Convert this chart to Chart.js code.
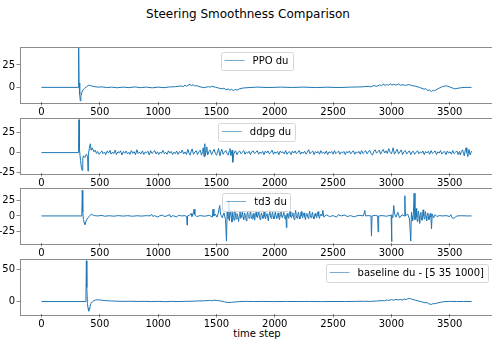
<!DOCTYPE html>
<html>
<head>
<meta charset="utf-8">
<script src="https://cdn.jsdelivr.net/npm/chart.js@4.4.0/dist/chart.umd.min.js"></script>
<style>
  html, body { margin: 0; padding: 0; background: #fff; }
  #fig { position: relative; width: 492px; height: 343px; overflow: hidden; font-family: "DejaVu Sans", sans-serif; }
  #fig canvas { position: absolute; }
  .title { position: absolute; left: 0; width: 496px; top: 7px; line-height: 14px; text-align: center; font-size: 12px; color: #000; }
  .xlabel { position: absolute; left: 157px; width: 200px; top: 328px; line-height: 12px; text-align: center; font-size: 10px; color: #000; }
</style>
</head>
<body>
<div id="fig">
  <div class="title">Steering Smoothness Comparison</div>
  <div class="xlabel">time step</div>
</div>
<script>
// values: [time step, du]
const xTicks = [0, 500, 1000, 1500, 2000, 2500, 3000, 3500];

const ppoDu = [[0,0],[316,0],[319,44],[322,5],[328,-8],[333,-15],[338,-10],[345,-6],[355,-3],[370,-1],[385,0.5],[400,2],[413,2.5],[430,1.5],[450,1],
  [480,0.3],[520,0.6],[560,-0.3],[600,0.3],[650,-0.4],[700,0.3],[750,-0.3],[800,0.5],[850,-0.3],[900,0.3],[950,-0.5],[1000,0.3],[1050,-0.3],[1100,0.5],
  [1150,0.8],[1200,1.6],[1215,0.8],[1230,2.5],[1245,1.2],[1255,2.2],[1273,3.6],[1285,1.8],[1300,3],[1315,1.5],[1330,2],[1360,0.5],[1400,-0.3],[1430,0.9],
  [1445,0.2],[1460,1.3],[1490,0.2],[1520,-0.8],[1550,-1.6],[1565,-0.8],[1580,-2.6],[1600,-1.8],[1615,-3],[1630,-2.2],[1645,-3.5],[1660,-2.4],[1680,-2.8],
  [1700,-1.5],[1730,-0.7],[1780,-0.2],[1850,0.3],[1950,-0.2],[2050,0.3],[2150,-0.1],[2250,0.3],[2350,-0.2],[2450,0.2],[2550,-0.2],[2650,0.3],[2750,0.6],
  [2800,1.3],[2820,0.6],[2850,2],[2875,1.2],[2900,2.8],[2915,1.8],[2930,3.6],[2945,2.2],[2960,3.2],[2975,2.4],[2990,4],[3005,2.6],[3020,3.4],[3040,2.5],
  [3060,3.8],[3080,2.4],[3100,3],[3120,2.2],[3150,3.1],[3175,2],[3200,1.5],[3240,0],[3280,-2],[3295,-1.4],[3310,-3.5],[3325,-2.8],[3343,-4.6],[3358,-3.2],
  [3370,-3.8],[3400,-1.5],[3430,0.5],[3450,1.2],[3472,1.8],[3500,0.5],[3520,-0.5],[3544,-1.7],[3570,-1],[3600,-0.3],[3640,0],[3687,0]];

const ddpgDu = [[0,0],[318,0],[322,41],[325,5],[335,-10],[342,-18],[348,-22],[354,-8],[360,-4],[372,-6],[385,-2],[396,-5],[399,-23],[402,-3],
  [410,5],[419,11],[425,3],[435,6],[450,1],[460,3],[472,-1],[481,1.5],[495,-2.2],[506,0.4],[518,2.1],[527,-1.3],[541,0.8],[550,-2.6],[564,1.9],
  [575,-0.6],[588,2.8],[597,-1.9],[611,0.7],[620,-1.2],[633,3.2],[642,-2.4],[656,1.1],[668,-0.3],[679,2.3],[690,-2.9],[703,1.4],[714,-0.8],
  [726,2.0],[737,-1.6],[749,0.5],[758,-2.2],[771,2.6],[783,-0.9],[794,1.2],[806,-2.7],[818,3.6],[829,-1.1],[840,0.6],[853,-1.8],[866,2.2],
  [877,-2.3],[889,0.9],[900,-0.4],[912,1.7],[924,-3.0],[936,2.4],[947,-1.0],[959,0.3],[970,2.6],[982,-1.7],[994,1.0],[1006,-2.4],[1018,0.8],
  [1029,-1.0],[1042,2.9],[1054,-1.6],[1065,0.4],[1077,-2.1],[1089,2.3],[1100,-0.7],[1112,1.5],[1124,-2.5],[1136,0.6],[1147,-1.3],[1159,2.0],
  [1171,-2.2],[1183,1.2],[1195,-0.5],[1207,3.1],[1219,-1.8],[1231,0.9],[1243,-2.3],[1255,4.1],[1266,-1.2],[1275,-3.2],[1284,2.0],[1292,4.6],
  [1303,-2.1],[1315,0.7],[1327,2.2],[1338,-2.6],[1350,1.0],[1361,3.1],[1372,-3.2],[1381,1.2],[1387,6],[1394,-5],[1400,11],[1405,-4],[1412,2],
  [1417,7],[1425,-3],[1436,1.5],[1446,3.2],[1458,-2.6],[1469,0.8],[1480,4.1],[1492,-1.2],[1501,-3.3],[1512,2],[1518,5.2],[1530,-4],[1538,1],
  [1546,4.2],[1557,-2.1],[1568,0.6],[1580,2.7],[1591,-1.1],[1600,-3.2],[1609,1.5],[1616,5.1],[1624,-4],[1634,3],[1640,-12],[1648,-2],[1657,1.2],
  [1664,2.3],[1676,-2.6],[1687,0.5],[1699,2.1],[1711,-1.4],[1722,0.3],[1734,2.6],[1745,-2.1],[1757,0.9],[1768,-0.6],[1780,1.7],[1792,-2.6],
  [1803,1.1],[1815,2.1],[1826,-1.2],[1838,0.2],[1850,2.5],[1861,-2.0],[1873,0.7],[1884,-1.0],[1896,1.6],[1908,-2.6],[1919,1.9],[1931,-0.4],
  [1942,2.1],[1954,-1.6],[1966,0.4],[1977,3.0],[1989,-2.1],[2000,0.9],[2012,-0.8],[2024,1.5],[2035,-2.6],[2047,2.0],[2058,-0.3],[2070,1.0],
  [2082,-1.6],[2093,2.6],[2105,-2.1],[2116,0.5],[2128,1.1],[2140,-2.5],[2151,1.8],[2163,-0.6],[2175,2.1],[2186,-1.5],[2198,0.3],[2210,2.6],
  [2221,-2.1],[2233,0.8],[2244,-1.0],[2256,1.6],[2268,-2.0],[2279,0.4],[2291,3.6],[2302,-1.5],[2314,0.6],[2326,2.0],[2337,-2.6],[2349,1.3],
  [2361,-0.5],[2372,1.6],[2384,-2.1],[2395,2.4],[2407,-0.8],[2419,0.6],[2430,-1.5],[2442,2.1],[2454,-2.5],[2465,1.0],[2477,-0.4],[2488,1.5],
  [2500,-2.0],[2512,2.5],[2523,-1.5],[2535,0.3],[2547,2.0],[2558,-2.1],[2570,0.8],[2581,-0.6],[2593,1.6],[2605,-2.6],[2616,1.4],[2628,-0.3],
  [2640,2.1],[2651,-1.6],[2663,0.6],[2674,2.4],[2686,-2.2],[2698,1.0],[2709,-0.7],[2721,1.5],[2733,-2.0],[2744,2.6],[2756,-1.2],[2768,0.4],
  [2779,2.5],[2791,-1.6],[2802,0.8],[2814,3.0],[2826,-1.4],[2838,-3.1],[2849,1.5],[2861,3.5],[2872,-0.8],[2884,1.2],[2896,3.1],[2907,-2.0],
  [2919,1.4],[2930,4.0],[2942,-0.6],[2954,2.2],[2965,-1.1],[2977,5.0],[2989,0.3],[3000,-1.5],[3008,2.1],[3015,6.0],[3026,-2.0],[3038,1.2],
  [3049,4.1],[3061,-1.6],[3072,0.7],[3084,3.4],[3096,-2.5],[3107,1.0],[3119,2.6],[3131,-1.8],[3142,0.5],[3154,2.1],[3166,-2.6],[3177,0.8],
  [3189,1.6],[3200,-2.0],[3212,0.3],[3224,2.4],[3235,-1.5],[3247,0.9],[3259,-0.6],[3270,2.1],[3282,-2.6],[3293,1.4],[3305,-0.4],[3317,1.7],
  [3328,-2.1],[3340,2.5],[3352,-1.0],[3363,0.4],[3375,2.1],[3387,-2.5],[3398,1.0],[3410,-0.5],[3421,2.6],[3433,-1.8],[3445,0.6],[3456,1.5],
  [3468,-2.6],[3480,2.0],[3491,-0.6],[3503,1.1],[3514,-2.0],[3526,2.6],[3537,-1.3],[3549,0.3],[3561,2.2],[3572,-2.4],[3584,1.5],[3590,-3],
  [3600,1],[3610,3.5],[3618,-1],[3625,-4],[3632,2],[3640,6],[3647,0],[3655,-5],[3665,4],[3675,-3],[3687,2]];

const td3Du = [[0,0],[346,0],[350,42],[354,6],[360,-6],[366,-11],[373,-14],[380,-10],[388,-6],[398,-3],[410,-1],[420,1.5],[428,3],[440,1.5],
  [455,0.5],[480,0],[520,0.8],[540,-0.5],[580,0.3],[620,-0.4],[660,0.5],[700,-0.3],[740,0.4],[780,-0.5],[820,0.3],[860,-0.3],[900,0.5],[930,0],
  [945,2.5],[955,-1],[970,0.5],[1000,-2],[1010,0],[1040,1.5],[1050,-1],[1075,0],[1100,2],[1110,-2],[1125,0.5],[1160,-1.5],[1175,1],[1200,0],
  [1230,0.5],[1245,-1],[1248,-15],[1252,0],[1270,1],[1282,4],[1290,-1],[1300,3],[1308,11],[1315,2],[1330,-1],[1360,0.5],[1400,-0.5],[1440,1],
  [1465,-2],[1471,11],[1478,0],[1490,3],[1505,-2],[1515,4],[1528,17],[1535,3],[1550,-3],[1565,5],[1578,-6],[1586,-41],[1592,8],[1600,-5],
  [1606,25],[1611,-8],[1618,3],[1622,10],[1629,-4],[1633,-10],[1640,6],[1645,-2],[1651,-7],[1658,9],[1663,1],[1670,-5],[1676,4],[1683,-1],
  [1690,-9],[1697,2],[1702,7],[1709,-4],[1716,0],[1722,8],[1728,-2],[1734,-6],[1741,5],[1748,1],[1756,-8],[1762,3],[1768,6],[1774,-1],
  [1781,-4],[1787,2],[1792,9],[1799,-2],[1805,-5],[1811,1],[1816,4],[1822,-3],[1828,-7],[1834,2],[1840,6],[1846,-1],[1852,-3],[1858,3],
  [1863,8],[1869,-2],[1875,-6],[1881,1],[1887,5],[1893,-1],[1899,-4],[1904,2],[1909,7],[1915,-1],[1921,-5],[1927,1],[1933,4],[1939,-2],
  [1945,-8],[1951,3],[1957,10],[1963,0],[1969,-4],[1975,2],[1981,6],[1987,-1],[1993,-5],[1999,1],[2005,7],[2011,-1],[2017,-4],[2023,2],
  [2029,5],[2035,-2],[2041,-6],[2047,1],[2053,8],[2059,0],[2065,-3],[2071,2],[2077,6],[2083,-1],[2089,-5],[2095,1],[2100,-19],[2104,0],
  [2107,4],[2113,-1],[2119,-4],[2125,2],[2131,7],[2137,-1],[2143,-3],[2149,1],[2155,5],[2161,-2],[2167,-6],[2173,2],[2179,9],[2185,0],
  [2191,-4],[2197,1],[2203,6],[2209,-1],[2215,-5],[2221,2],[2227,7],[2233,0],[2239,-3],[2245,1],[2251,5],[2257,-1],[2263,-6],[2269,1],
  [2275,4],[2281,0],[2287,-4],[2293,2],[2299,8],[2305,0],[2311,-3],[2317,1],[2323,6],[2329,-1],[2335,-5],[2341,1],[2347,4],[2353,0],
  [2359,-3],[2365,2],[2371,7],[2377,0],[2383,-4],[2389,1],[2395,3],[2405,0],[2413,9],[2420,-2],[2440,2],[2470,-1],[2500,0.5],[2530,-2],
  [2545,2],[2570,0],[2600,1.5],[2620,-1],[2650,0.5],[2680,-1.5],[2700,0],[2730,1],[2760,0],[2772,9],[2778,0],[2800,0.5],[2825,0],[2829,-33],
  [2834,0],[2860,1],[2882,0],[2886,-26],[2891,0],[2920,0.5],[2960,-0.5],[2990,1],[2998,0],[3001,-42],[3005,2],[3012,-3],[3020,17],[3028,3],
  [3040,-2],[3055,6],[3070,-3],[3090,2],[3110,0],[3115,33],[3120,0],[3140,3],[3155,-5],[3166,-41],[3172,6],[3177,-1],[3182,-8],[3188,2],
  [3195,37],[3202,-6],[3207,1],[3212,12],[3217,-2],[3222,-9],[3227,3],[3232,8],[3237,-1],[3242,-12],[3247,2],[3252,6],[3257,-2],[3262,-7],
  [3267,1],[3272,10],[3277,0],[3282,-5],[3287,2],[3292,7],[3297,-1],[3302,-8],[3307,1],[3312,5],[3317,-1],[3322,-6],[3328,1],[3334,4],
  [3339,-2],[3344,-21],[3350,3],[3362,-3],[3375,2],[3390,-1],[3410,0.5],[3440,0],[3470,0.5],[3500,-1],[3510,2],[3520,-3],[3535,-4],[3550,-2],
  [3560,0],[3600,0.3],[3650,0],[3687,0]];

const baselineDu = [[0,0],[381,0],[385,64],[389,22],[394,-3],[399,-10],[405,-15],[410,-11],[416,-7],[425,-3],[438,0],[450,1.5],[465,2.5],
  [480,2.8],[500,2.5],[520,2],[550,1.5],[590,1],[640,0.6],[700,0.3],[760,0.5],[820,0.1],[880,0.4],[940,0],[1000,0.3],[1060,-0.2],[1120,0.3],
  [1180,0],[1240,0.4],[1300,0.6],[1350,1],[1400,1.2],[1440,1.8],[1460,1.2],[1480,2.2],[1510,1.5],[1540,0.8],[1570,-0.5],[1600,-1.5],[1630,-1.2],
  [1660,-0.6],[1700,0],[1760,0.3],[1820,0],[1900,0.2],[2000,-0.1],[2100,0.2],[2200,0],[2300,0.2],[2400,-0.1],[2500,0.1],[2600,0],[2700,0.3],
  [2760,0.5],[2820,0.3],[2870,0.8],[2920,1.5],[2940,1],[2958,2.5],[2975,1.8],[3000,3],[3020,2.2],[3040,3.5],[3060,2.6],[3080,3.2],[3095,2.5],
  [3110,4],[3125,3],[3140,4.5],[3155,5],[3170,4],[3185,3],[3200,2.5],[3230,1],[3260,-0.5],[3290,-2],[3305,-1.5],[3320,-3.5],[3344,-4.5],
  [3358,-3],[3370,-3.5],[3400,-2],[3430,-0.8],[3460,0],[3500,0.3],[3560,0],[3620,0.2],[3687,0]];

const panels = [
  { label: 'PPO du', data: ppoDu, yTicks: [0, 25], yMin: -16.3, yMax: 45.6, top: 44, align: 'center' },
  { label: 'ddpg du', data: ddpgDu, yTicks: [-25, 0, 25], yMin: -25.4, yMax: 43.7, top: 115, align: 'center' },
  { label: 'td3 du', data: td3Du, yTicks: [-25, 0, 25], yMin: -44.2, yMax: 46.4, top: 185, align: 'center' },
  { label: 'baseline du - [5 35 1000]', data: baselineDu, yTicks: [0, 50], yMin: -19.5, yMax: 67.5, top: 256, align: 'right' }
];

const lineColor = '#1f77b4';
const spineColor = 'rgba(0,0,0,0.45)';
const tickFont = { family: 'DejaVu Sans', size: 10 };

// top/right spines + full box like matplotlib
const frame = {
  id: 'frame',
  afterDatasetsDraw(chart) {
    const { ctx, chartArea: a } = chart;
    ctx.save();
    ctx.strokeStyle = spineColor;
    ctx.lineWidth = 1;
    ctx.strokeRect(Math.round(a.left) + 0.5, Math.round(a.top) + 0.5, Math.round(a.right - a.left), Math.round(a.bottom - a.top));
    ctx.restore();
  }
};

// matplotlib style legend box inside the axes
const boxLegend = {
  id: 'boxLegend',
  afterDraw(chart, args, opts) {
    const { ctx, chartArea: a } = chart;
    const ds = chart.data.datasets[0];
    ctx.save();
    ctx.font = '10px "DejaVu Sans"';
    const tw = ctx.measureText(ds.label).width;
    const w = 4 + 20 + 8 + tw + 4, h = 18;
    const x = opts.align === 'right' ? a.right - 5 - w : (a.left + a.right) / 2 - w / 2;
    const y = a.top + 5;
    ctx.beginPath();
    ctx.roundRect(Math.round(x) + 0.5, Math.round(y) + 0.5, Math.round(w), h, 2);
    ctx.fillStyle = 'rgba(255,255,255,0.8)';
    ctx.fill();
    ctx.strokeStyle = '#d6d6d6';
    ctx.lineWidth = 1;
    ctx.stroke();
    ctx.beginPath();
    ctx.moveTo(x + 4, y + h / 2);
    ctx.lineTo(x + 24, y + h / 2);
    ctx.strokeStyle = lineColor;
    ctx.globalAlpha = 0.6;
    ctx.stroke();
    ctx.globalAlpha = 1;
    ctx.fillStyle = '#000';
    ctx.textBaseline = 'middle';
    ctx.fillText(ds.label, x + 32, y + h / 2 + 0.5);
    ctx.restore();
  }
};

const fig = document.getElementById('fig');
const plotH = 58;

panels.forEach(p => {
  const canvas = document.createElement('canvas');
  const w = 513, h = 5 + plotH + 22;
  canvas.width = w; canvas.height = h;
  canvas.style.width = w + 'px'; canvas.style.height = h + 'px';
  canvas.style.left = '-20px';
  canvas.style.top = (p.top - 5) + 'px';
  fig.appendChild(canvas);

  new Chart(canvas, {
    type: 'line',
    data: {
      datasets: [{
        label: p.label,
        data: p.data.map(d => ({ x: d[0], y: d[1] })),
        borderColor: lineColor,
        borderWidth: 1,
        pointRadius: 0,
        tension: 0,
        fill: false
      }]
    },
    options: {
      responsive: false,
      animation: false,
      devicePixelRatio: 1,
      layout: { padding: { top: 5, right: 0, bottom: 0, left: 0 } },
      plugins: {
        legend: { display: false },
        tooltip: { enabled: false },
        boxLegend: { align: p.align }
      },
      scales: {
        x: {
          type: 'linear',
          min: -184,
          max: 3871,
          afterBuildTicks: s => { s.ticks = xTicks.map(v => ({ value: v })); },
          afterFit: s => { s.height = 22; },
          ticks: { font: tickFont, color: '#000', autoSkip: false, maxRotation: 0, padding: 1, callback: v => String(v) },
          grid: { drawOnChartArea: false, drawTicks: true, tickLength: 3.5, color: spineColor },
          border: { display: false }
        },
        y: {
          min: p.yMin,
          max: p.yMax,
          afterBuildTicks: s => { s.ticks = p.yTicks.map(v => ({ value: v })); },
          afterFit: s => { s.width = 40; },
          ticks: { font: tickFont, color: '#000', padding: 1.5, callback: v => String(v) },
          grid: { drawOnChartArea: false, drawTicks: true, tickLength: 3.5, color: spineColor },
          border: { display: false }
        }
      }
    },
    plugins: [frame, boxLegend]
  });
});
</script>
</body>
</html>
